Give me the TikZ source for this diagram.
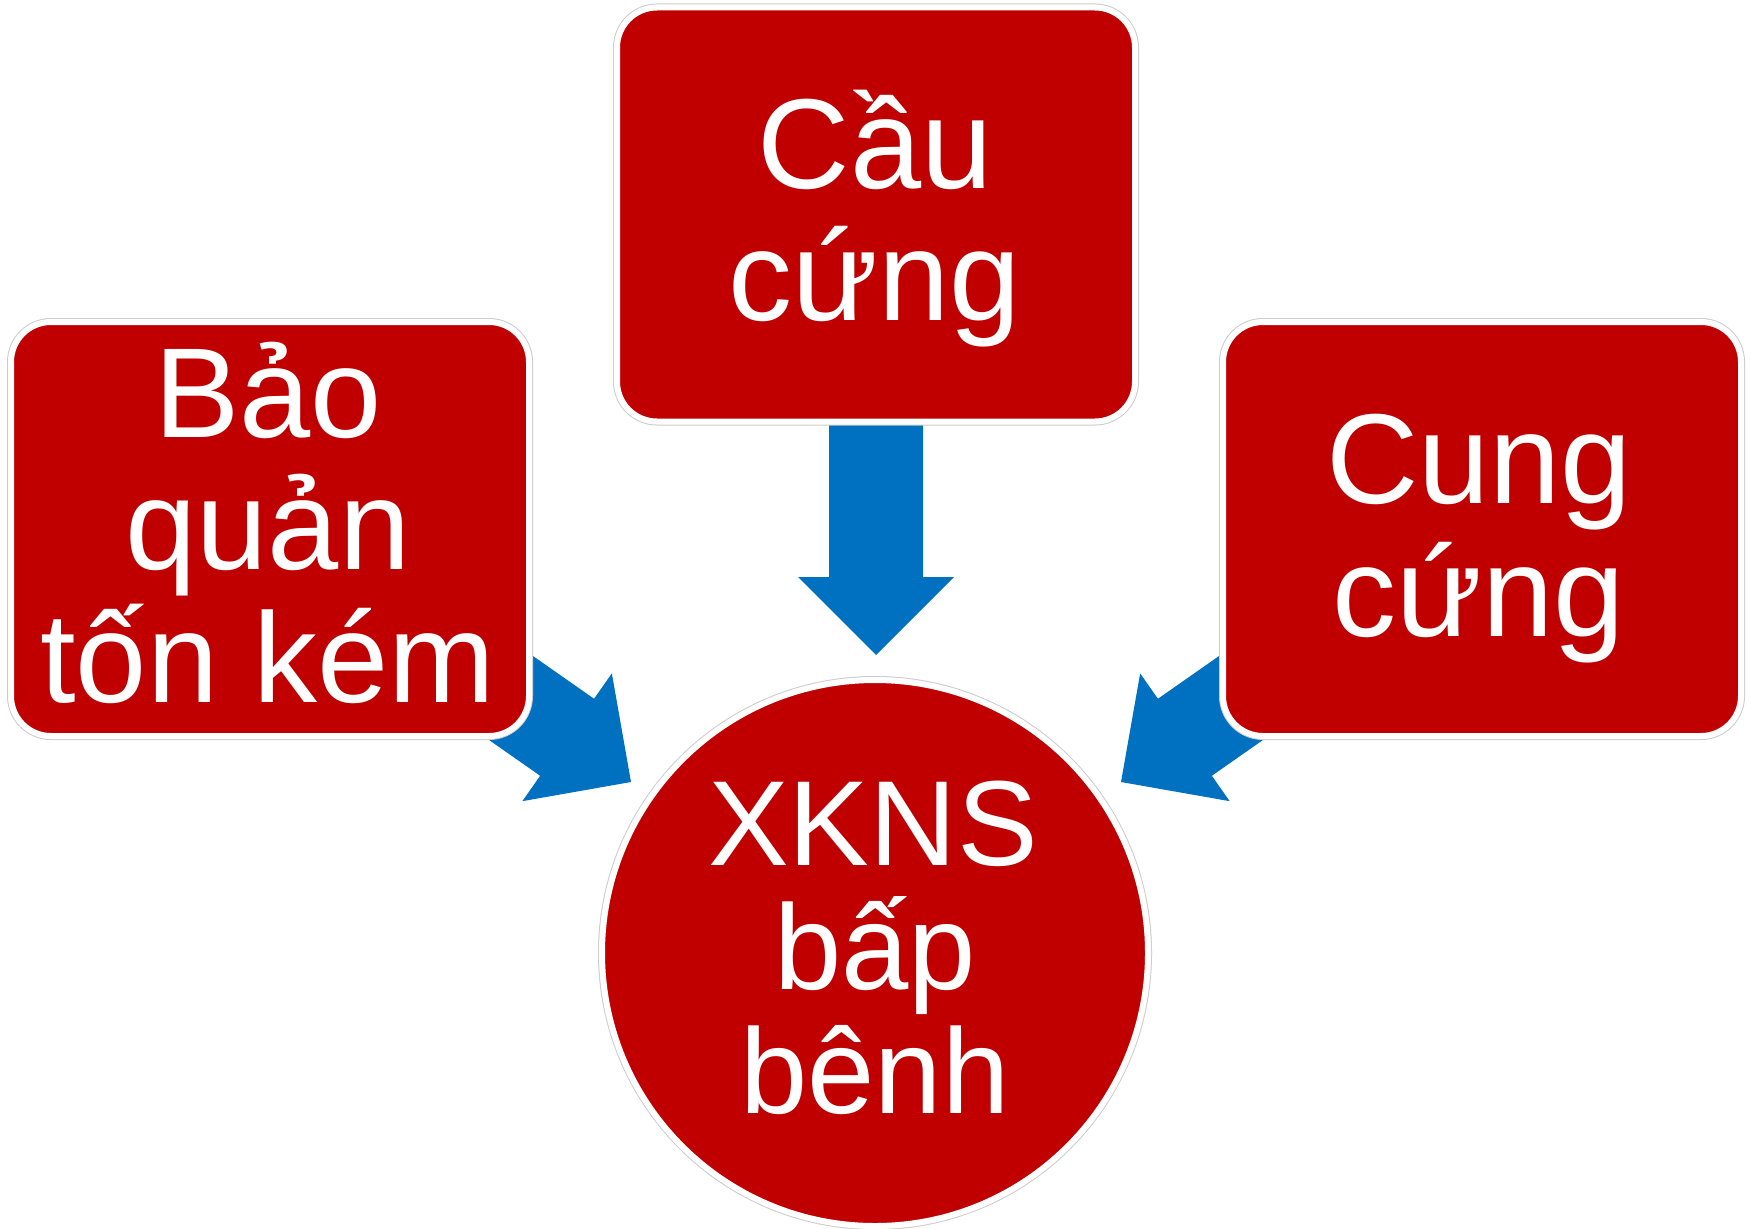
\documentclass[tikz,border=0pt]{standalone}
\usepackage{fontspec}
\setmainfont{Liberation Sans}[Language=Vietnamese]
\definecolor{boxred}{HTML}{C00000}
\definecolor{arrowblue}{HTML}{0070C0}
\tikzset{
  redbox/.style={rectangle, rounded corners=40pt, fill=boxred, draw=white, line width=6pt,
    preaction={draw=black!20, line width=8pt}, minimum width=518pt, minimum height=414pt, inner sep=0pt},
  redcircle/.style={circle, fill=boxred, draw=white, line width=6pt,
    preaction={draw=black!20, line width=8pt}, minimum size=546pt, inner sep=0pt},
  boxtext/.style={text=white, anchor=base, inner sep=0pt, font=\fontsize{128}{132}\selectfont},
  circtext/.style={text=white, anchor=base, inner sep=0pt, font=\fontsize{121}{124}\selectfont},
  blockarrow/.pic={\fill[arrowblue] (0,0) -- (-78,78) -- (-78,47) -- (-230,47) -- (-230,-47) -- (-78,-47) -- (-78,-78) -- cycle;}
}
\begin{document}
\begin{tikzpicture}[x=1pt,y=-1pt]
\fill[white] (0,0) rectangle (1752,1228);
\useasboundingbox (0,0) rectangle (1752,1228);
% arrow tips
\coordinate (tipT) at (876,655);
\coordinate (tipL) at (631,782);
\coordinate (tipR) at (1121,782);
% arrows (drawn first, tails hidden under boxes)
\pic[rotate=-90] at (tipT) {blockarrow};
\pic[rotate=-35] at (tipL) {blockarrow};
\pic[rotate=-145] at (tipR) {blockarrow};
% boxes
\node[redbox] (T) at (876,214.5) {};
\node[redbox] (L) at (270,529) {};
\node[redbox] (R) at (1482,529) {};
\node[redcircle] (C) at (875,953) {};
% texts
\node[boxtext] (T1) at (875,188) {Cầu};
\node[boxtext] (T2) at (875,320) {cứng};
\node[boxtext] (L1) at (268,437) {Bảo};
\node[boxtext] (L2) at (268,569) {quản};
\node[boxtext] (L3) at (268,702) {tốn kém};
\node[boxtext] (R1) at (1479,503) {Cung};
\node[boxtext] (R2) at (1479,636) {cứng};
\node[circtext] (C1) at (873,865) {XKNS};
\node[circtext] (C2) at (875,989) {bấp};
\node[circtext] (C3) at (875,1113) {bênh};
\end{tikzpicture}
\end{document}
